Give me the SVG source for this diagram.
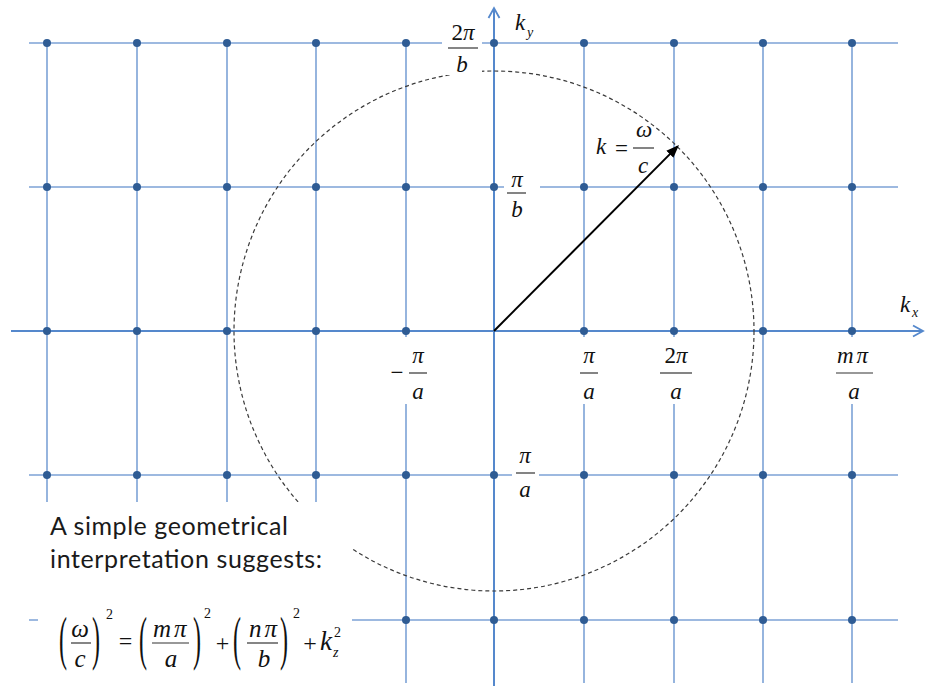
<svg xmlns="http://www.w3.org/2000/svg" width="925" height="686" viewBox="0 0 925 686">
<style>
.grid{stroke:#7ca2d6;stroke-width:1.6;fill:none}
.axis{stroke:#5588cc;stroke-width:2;fill:none}
.dot{fill:#2f5c94}
.mask{fill:#ffffff;stroke:none}
.m{font-family:"Liberation Serif","Times New Roman",serif;font-size:23px;fill:#111}
.mi{font-family:"Liberation Serif","Times New Roman",serif;font-size:23px;font-style:italic;fill:#111}
.f{font-family:"Liberation Serif","Times New Roman",serif;font-size:24px;fill:#111}
.fi{font-family:"Liberation Serif","Times New Roman",serif;font-size:25px;font-style:italic;fill:#111}
.sup{font-family:"Liberation Serif","Times New Roman",serif;font-size:14px;fill:#111}
.supi{font-family:"Liberation Serif","Times New Roman",serif;font-size:14px;font-style:italic;fill:#111}
.bar{stroke:#333;stroke-width:1.2}
.note{font-family:Lato,"Open Sans","Liberation Sans",sans-serif;font-size:25px;fill:#1a1a1a}
</style>
<defs>
<marker id="ax" viewBox="-2 -2 14 15" refX="10" refY="5.5" markerWidth="14" markerHeight="15" markerUnits="userSpaceOnUse" orient="auto">
<path d="M0,0 L10,5.5 L0,11" fill="none" stroke="#5588cc" stroke-width="1.8"/>
</marker>
<marker id="ah" viewBox="0 0 13 10" refX="11" refY="5" markerWidth="13" markerHeight="10" markerUnits="userSpaceOnUse" orient="auto">
<path d="M0,0 L13,5 L0,10 z" fill="#000"/>
</marker>
</defs>

<g id="connectors">
<g id="grid-lines">
<line class="grid" x1="29" y1="43" x2="898" y2="43"/>
<line class="grid" x1="29" y1="187" x2="898" y2="187"/>
<line class="grid" x1="29" y1="475" x2="898" y2="475"/>
<line class="grid" x1="29" y1="620" x2="898" y2="620"/>
<line class="grid" x1="47" y1="43" x2="47" y2="683"/>
<line class="grid" x1="137" y1="43" x2="137" y2="683"/>
<line class="grid" x1="227" y1="43" x2="227" y2="683"/>
<line class="grid" x1="316" y1="43" x2="316" y2="683"/>
<line class="grid" x1="406" y1="43" x2="406" y2="683"/>
<line class="grid" x1="584" y1="43" x2="584" y2="683"/>
<line class="grid" x1="674" y1="43" x2="674" y2="683"/>
<line class="grid" x1="763" y1="43" x2="763" y2="683"/>
<line class="grid" x1="852" y1="43" x2="852" y2="683"/>
</g>
<g id="axes">
<line class="axis" x1="11" y1="331" x2="923" y2="331" marker-end="url(#ax)"/>
<line class="axis" x1="494" y1="686" x2="494" y2="8" marker-end="url(#ax)"/>
</g>
</g>

<g id="lattice-points">
<g id="row-43">
<circle class="dot" cx="47" cy="43" r="4"/><circle class="dot" cx="137" cy="43" r="4"/><circle class="dot" cx="227" cy="43" r="4"/><circle class="dot" cx="316" cy="43" r="4"/><circle class="dot" cx="406" cy="43" r="4"/><circle class="dot" cx="494" cy="43" r="4"/><circle class="dot" cx="584" cy="43" r="4"/><circle class="dot" cx="674" cy="43" r="4"/><circle class="dot" cx="763" cy="43" r="4"/><circle class="dot" cx="852" cy="43" r="4"/>
</g>
<g id="row-187">
<circle class="dot" cx="47" cy="187" r="4"/><circle class="dot" cx="137" cy="187" r="4"/><circle class="dot" cx="227" cy="187" r="4"/><circle class="dot" cx="316" cy="187" r="4"/><circle class="dot" cx="406" cy="187" r="4"/><circle class="dot" cx="494" cy="187" r="4"/><circle class="dot" cx="584" cy="187" r="4"/><circle class="dot" cx="674" cy="187" r="4"/><circle class="dot" cx="763" cy="187" r="4"/><circle class="dot" cx="852" cy="187" r="4"/>
</g>
<g id="row-331">
<circle class="dot" cx="47" cy="331" r="4"/><circle class="dot" cx="137" cy="331" r="4"/><circle class="dot" cx="227" cy="331" r="4"/><circle class="dot" cx="316" cy="331" r="4"/><circle class="dot" cx="406" cy="331" r="4"/><circle class="dot" cx="584" cy="331" r="4"/><circle class="dot" cx="674" cy="331" r="4"/><circle class="dot" cx="763" cy="331" r="4"/><circle class="dot" cx="852" cy="331" r="4"/>
</g>
<g id="row-475">
<circle class="dot" cx="47" cy="475" r="4"/><circle class="dot" cx="137" cy="475" r="4"/><circle class="dot" cx="227" cy="475" r="4"/><circle class="dot" cx="316" cy="475" r="4"/><circle class="dot" cx="406" cy="475" r="4"/><circle class="dot" cx="494" cy="475" r="4"/><circle class="dot" cx="584" cy="475" r="4"/><circle class="dot" cx="674" cy="475" r="4"/><circle class="dot" cx="763" cy="475" r="4"/><circle class="dot" cx="852" cy="475" r="4"/>
</g>
<g id="row-620">
<circle class="dot" cx="406" cy="620" r="4"/><circle class="dot" cx="494" cy="620" r="4"/><circle class="dot" cx="584" cy="620" r="4"/><circle class="dot" cx="674" cy="620" r="4"/><circle class="dot" cx="763" cy="620" r="4"/><circle class="dot" cx="852" cy="620" r="4"/>
</g>
</g>

<g id="sphere">
<circle cx="494" cy="331" r="260" fill="none" stroke="#3a3a3a" stroke-width="1.2" stroke-dasharray="4 3"/>
</g>

<g id="k-vector">
<line x1="494" y1="331" x2="677.6" y2="146.4" stroke="#000" stroke-width="2" marker-end="url(#ah)"/>
</g>

<g id="label-masks">
<rect class="mask" x="442" y="20" width="40" height="55"/>
<rect class="mask" x="504" y="168" width="36" height="52"/>
<rect class="mask" x="512" y="448" width="27" height="52"/>
<rect class="mask" x="388" y="337" width="42" height="67"/>
<rect class="mask" x="577" y="337" width="24" height="67"/>
<rect class="mask" x="656" y="337" width="40" height="67"/>
<rect class="mask" x="833" y="337" width="43" height="67"/>
<rect class="mask" x="38" y="502" width="314" height="184"/>
</g>

<g id="label-2pi-b">
<text class="m" x="463" y="40" text-anchor="middle">2<tspan class="mi">π</tspan></text>
<line class="bar" x1="448" y1="48" x2="478" y2="48"/>
<text class="mi" x="462" y="72" text-anchor="middle">b</text>
</g>
<g id="label-ky">
<text class="mi" x="515" y="30">k</text>
<text class="supi" x="527" y="37">y</text>
</g>
<g id="label-k">
<text class="mi" x="596" y="154">k</text>
<text class="m" x="621.5" y="156" text-anchor="middle">=</text>
<text class="mi" x="644" y="137" text-anchor="middle">ω</text>
<line class="bar" x1="633" y1="148" x2="654" y2="148"/>
<text class="mi" x="643" y="173" text-anchor="middle">c</text>
</g>
<g id="label-pi-b">
<text class="mi" x="517" y="187" text-anchor="middle">π</text>
<line class="bar" x1="507" y1="193" x2="526" y2="193"/>
<text class="mi" x="517" y="217" text-anchor="middle">b</text>
</g>
<g id="label-neg-pi-a">
<text class="m" x="397" y="380" text-anchor="middle">−</text>
<text class="mi" x="418" y="363" text-anchor="middle">π</text>
<line class="bar" x1="409" y1="373" x2="427" y2="373"/>
<text class="mi" x="418" y="399" text-anchor="middle">a</text>
</g>
<g id="label-pi-a">
<text class="mi" x="589" y="363" text-anchor="middle">π</text>
<line class="bar" x1="580" y1="373" x2="598" y2="373"/>
<text class="mi" x="589" y="399" text-anchor="middle">a</text>
</g>
<g id="label-2pi-a">
<text class="m" x="676" y="363" text-anchor="middle">2<tspan class="mi">π</tspan></text>
<line class="bar" x1="660" y1="373" x2="692" y2="373"/>
<text class="mi" x="676" y="399" text-anchor="middle">a</text>
</g>
<g id="label-mpi-a">
<text class="mi" x="837" y="363" letter-spacing="3">mπ</text>
<line class="bar" x1="836" y1="373" x2="873" y2="373"/>
<text class="mi" x="854" y="399" text-anchor="middle">a</text>
</g>
<g id="label-kx">
<text class="mi" x="900" y="312">k</text>
<text class="supi" x="912" y="317">x</text>
</g>
<g id="label-pi-a-low">
<text class="mi" x="525" y="463" text-anchor="middle">π</text>
<line class="bar" x1="516" y1="473" x2="535" y2="473"/>
<text class="mi" x="525" y="497" text-anchor="middle">a</text>
</g>

<g id="note">
<text class="note" x="50" y="535" textLength="238" lengthAdjust="spacing">A simple geometrical</text>
<text class="note" x="50" y="568" textLength="272" lengthAdjust="spacing">interpretation suggests:</text>
</g>

<g id="formula">
<text class="f" transform="translate(59,658) scale(1,2.5)">(</text>
<text class="fi" x="80" y="637" text-anchor="middle">ω</text>
<line class="bar" x1="71" y1="643" x2="91" y2="643"/>
<text class="fi" x="80" y="667" text-anchor="middle">c</text>
<text class="f" transform="translate(92,658) scale(1,2.5)">)</text>
<text class="sup" x="106" y="619">2</text>
<text class="f" x="125.5" y="649" text-anchor="middle">=</text>
<text class="f" transform="translate(139,658) scale(1,2.5)">(</text>
<text class="fi" x="153" y="637" letter-spacing="3">mπ</text>
<line class="bar" x1="152" y1="643" x2="189" y2="643"/>
<text class="fi" x="171" y="667" text-anchor="middle">a</text>
<text class="f" transform="translate(193,658) scale(1,2.5)">)</text>
<text class="sup" x="204" y="618">2</text>
<text class="f" x="222.5" y="651" text-anchor="middle">+</text>
<text class="f" transform="translate(233,658) scale(1,2.5)">(</text>
<text class="fi" x="249" y="637" letter-spacing="3">nπ</text>
<line class="bar" x1="247" y1="643" x2="278" y2="643"/>
<text class="fi" x="264" y="667" text-anchor="middle">b</text>
<text class="f" transform="translate(280,658) scale(1,2.5)">)</text>
<text class="sup" x="293" y="618">2</text>
<text class="f" x="310" y="651" text-anchor="middle">+</text>
<text class="fi" x="320" y="650" style="font-size:27px">k</text>
<text class="supi" x="333" y="657">z</text>
<text class="sup" x="334" y="637">2</text>
</g>
</svg>
